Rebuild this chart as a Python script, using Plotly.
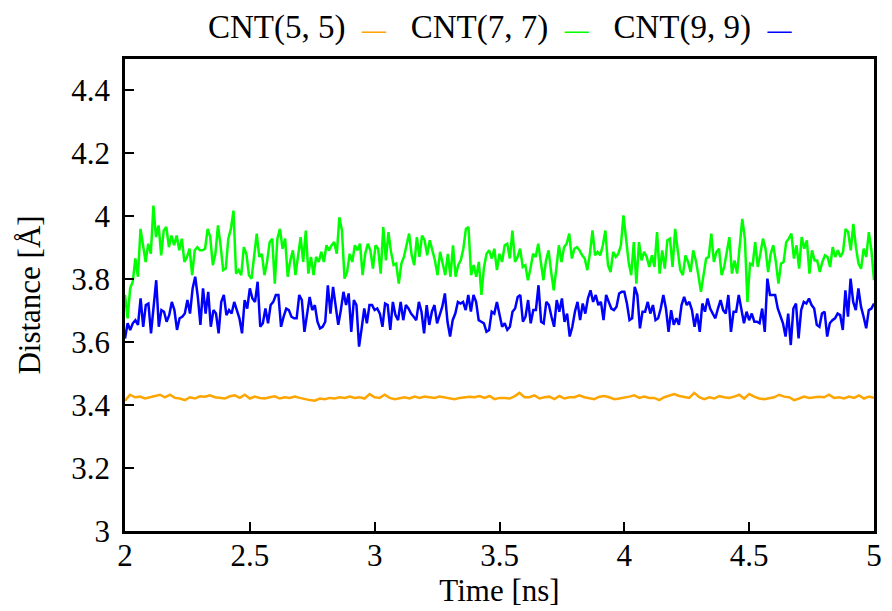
import numpy as np
import plotly.graph_objects as go

# ---- data ----
labels = ["CNT(5, 5)", "CNT(7, 7)", "CNT(9, 9)"]
colors = ["#FFA500", "#00FF00", "#0000FF"]

cnt55 = [
    3.414, 3.433, 3.425, 3.427, 3.421, 3.425, 3.428, 3.433, 3.425, 3.433,
    3.423, 3.421, 3.416, 3.425, 3.421, 3.428, 3.427, 3.431, 3.425, 3.423,
    3.421, 3.428, 3.431, 3.423, 3.433, 3.421, 3.427, 3.423, 3.421, 3.425,
    3.428, 3.421, 3.425, 3.423, 3.427, 3.423, 3.419, 3.416, 3.414, 3.421,
    3.419, 3.423, 3.421, 3.425, 3.423, 3.427, 3.423, 3.425, 3.421, 3.435,
    3.425, 3.423, 3.433, 3.423, 3.419, 3.423, 3.425, 3.421, 3.427, 3.423,
    3.427, 3.425, 3.423, 3.427, 3.425, 3.423, 3.419, 3.423, 3.425, 3.427,
    3.425, 3.429, 3.423, 3.429, 3.419,
    3.423, 3.423, 3.421, 3.428, 3.439, 3.425, 3.425, 3.431, 3.421, 3.425,
    3.427, 3.419, 3.429, 3.421, 3.425, 3.425, 3.431, 3.425, 3.423, 3.419,
    3.427, 3.429, 3.425, 3.419, 3.421, 3.423, 3.427, 3.431, 3.423, 3.427,
    3.423, 3.423, 3.416, 3.425, 3.429, 3.435, 3.429, 3.425, 3.423, 3.439,
    3.425, 3.419, 3.425, 3.421, 3.429, 3.425, 3.423, 3.427, 3.433, 3.421,
    3.435, 3.427, 3.421, 3.419, 3.423, 3.425, 3.433, 3.427, 3.425, 3.416,
    3.421, 3.427, 3.423, 3.425, 3.427, 3.425, 3.433, 3.423, 3.425, 3.421,
    3.427, 3.423, 3.431, 3.421, 3.427, 3.423,
]

cnt77 = [
    3.750, 3.676, 3.771, 3.792, 3.866, 3.808, 3.960, 3.908, 3.855, 3.913,
    3.881, 4.034, 3.934, 3.971, 3.876, 3.955, 3.966, 3.902, 3.939, 3.908,
    3.939, 3.892, 3.929, 3.855, 3.871, 3.897, 3.813, 3.892, 3.902, 3.892,
    3.892, 3.897, 3.960, 3.934, 3.845, 3.881, 3.971, 3.908, 3.829, 3.834,
    3.929, 3.960, 4.018, 3.818, 3.829, 3.813, 3.902, 3.881, 3.813,
    3.802, 3.881, 3.945, 3.871, 3.881, 3.813, 3.855, 3.918, 3.929, 3.786,
    3.929, 3.960, 3.897, 3.929, 3.808, 3.860, 3.892, 3.813, 3.881, 3.934,
    3.855, 3.955, 3.818, 3.871, 3.813, 3.871, 3.855, 3.887, 3.855, 3.908,
    3.892, 3.908, 3.918, 3.881, 3.997, 3.955, 3.802, 3.823, 3.881, 3.855,
    3.908, 3.892, 3.913, 3.813, 3.881, 3.913, 3.892, 3.834,
    3.908, 3.897, 3.818, 3.966, 3.860, 3.950, 3.887, 3.845, 3.850, 3.786,
    3.850, 3.871, 3.908, 3.945, 3.876, 3.845, 3.934, 3.871, 3.939, 3.924,
    3.876, 3.924, 3.892, 3.860, 3.813, 3.887, 3.850, 3.813, 3.881, 3.808,
    3.908, 3.808, 3.845, 3.860, 3.897, 3.960, 3.966, 3.813, 3.845, 3.808,
    3.855, 3.750, 3.839, 3.881, 3.892, 3.866, 3.897, 3.829, 3.881,
    3.855, 3.908, 3.913, 3.866, 3.955, 3.855, 3.871, 3.897, 3.839, 3.845,
    3.797, 3.834, 3.881, 3.871, 3.913, 3.855, 3.797, 3.860, 3.892, 3.823,
    3.765, 3.834, 3.908, 3.855, 3.902, 3.913, 3.945, 3.866, 3.897, 3.902,
    3.892, 3.876, 3.866, 3.829, 3.881, 3.955, 3.876, 3.887, 3.876, 3.908,
    3.955, 3.845, 3.823, 3.887, 3.871, 3.881, 3.908,
    4.003, 3.918, 3.855, 3.813, 3.918, 3.786, 3.918, 3.860, 3.887, 3.871,
    3.839, 3.876, 3.839, 3.950, 3.818, 3.892, 3.834, 3.924, 3.929, 3.839,
    3.960, 3.892, 3.829, 3.813, 3.876, 3.855, 3.823, 3.892, 3.860, 3.813,
    3.760, 3.813, 3.866, 3.871, 3.945, 3.855, 3.887, 3.897, 3.813, 3.839,
    3.881, 3.934, 3.818, 3.860, 3.818, 3.902, 3.992,
    3.929, 3.728, 3.850, 3.845, 3.918, 3.839, 3.881, 3.929, 3.897, 3.823,
    3.881, 3.908, 3.855, 3.786, 3.850, 3.855, 3.918, 3.929, 3.945, 3.866,
    3.908, 3.834, 3.934, 3.897, 3.924, 3.818, 3.892, 3.860, 3.860, 3.823,
    3.855, 3.876, 3.871, 3.839, 3.902, 3.871, 3.892, 3.871, 3.887, 3.960,
    3.950, 3.892, 3.976, 3.902, 3.850, 3.834, 3.897, 3.871, 3.950, 3.892,
    3.797,
]

cnt99 = [
    3.612, 3.660, 3.639, 3.660, 3.670, 3.655, 3.739, 3.649, 3.718, 3.723,
    3.628, 3.707, 3.797, 3.649, 3.702, 3.697, 3.665, 3.686, 3.728, 3.702,
    3.639, 3.676, 3.681, 3.691, 3.734, 3.691, 3.771, 3.808, 3.744, 3.655,
    3.771, 3.691, 3.760, 3.649, 3.702, 3.691, 3.628, 3.728, 3.750, 3.686,
    3.702, 3.691, 3.728, 3.702, 3.676, 3.628, 3.734,
    3.707, 3.771, 3.739, 3.728, 3.792, 3.649, 3.660, 3.707, 3.660, 3.718,
    3.728, 3.750, 3.750, 3.649, 3.681, 3.707, 3.702, 3.681, 3.676, 3.676,
    3.750, 3.734, 3.633, 3.691, 3.744, 3.702, 3.718, 3.665, 3.644, 3.649,
    3.665, 3.781, 3.691, 3.776, 3.718, 3.655, 3.702, 3.760, 3.718, 3.755,
    3.633, 3.734, 3.718, 3.586, 3.644, 3.707, 3.660, 3.718,
    3.718, 3.702, 3.707, 3.691, 3.649, 3.723, 3.718, 3.639, 3.728, 3.686,
    3.670, 3.728, 3.670, 3.718, 3.707, 3.691, 3.681, 3.670, 3.728, 3.697,
    3.628, 3.718, 3.655, 3.697, 3.718, 3.660, 3.686, 3.713, 3.755, 3.665,
    3.618, 3.670, 3.691, 3.728, 3.723, 3.728, 3.702, 3.750, 3.697, 3.750,
    3.728, 3.670, 3.665, 3.660, 3.633, 3.639, 3.697, 3.691, 3.728,
    3.691, 3.649, 3.660, 3.639, 3.649, 3.697, 3.707, 3.744, 3.750, 3.665,
    3.681, 3.734, 3.660, 3.702, 3.702, 3.781, 3.665, 3.660, 3.728, 3.718,
    3.681, 3.649, 3.734, 3.697, 3.739, 3.665, 3.691, 3.618, 3.649, 3.697,
    3.728, 3.670, 3.723, 3.691, 3.739, 3.765, 3.728, 3.750, 3.718, 3.728,
    3.670, 3.750, 3.728, 3.707, 3.702, 3.713, 3.755,
    3.760, 3.760, 3.723, 3.670, 3.676, 3.776, 3.750, 3.644, 3.697, 3.697,
    3.728, 3.691, 3.718, 3.670, 3.676, 3.707, 3.750, 3.707, 3.633, 3.702,
    3.655, 3.676, 3.655, 3.718, 3.744, 3.718, 3.728, 3.702, 3.649, 3.691,
    3.633, 3.723, 3.697, 3.739, 3.707, 3.691, 3.676, 3.707, 3.734, 3.702,
    3.691, 3.750, 3.633, 3.697, 3.697, 3.750, 3.707,
    3.660, 3.697, 3.670, 3.691, 3.665, 3.665, 3.660, 3.707, 3.633, 3.802,
    3.750, 3.750, 3.750, 3.707, 3.686, 3.660, 3.618, 3.691, 3.591, 3.707,
    3.723, 3.612, 3.702, 3.728, 3.723, 3.739, 3.718, 3.707, 3.655, 3.649,
    3.691, 3.697, 3.618, 3.660, 3.670, 3.676, 3.691, 3.686, 3.639, 3.765,
    3.681, 3.802, 3.728, 3.702, 3.771, 3.713, 3.681, 3.644, 3.702, 3.707,
    3.723,
]

t_start, t_end = 2.0, 5.0
x_ticks = [2, 2.5, 3, 3.5, 4, 4.5, 5]
y_ticks = [3, 3.2, 3.4, 3.6, 3.8, 4, 4.2, 4.4]

FONT = "Liberation Serif"

fig = go.Figure()
for name, col, ys in zip(labels, colors, [cnt55, cnt77, cnt99]):
    xs = np.linspace(t_start, t_end, len(ys))
    fig.add_trace(go.Scatter(x=xs, y=ys, mode="lines", name=name,
                             line=dict(color=col, width=2.5), showlegend=False))

# gnuplot-style key: text followed by a line sample
sp = "\u00a0"
key_text = (sp * 3).join(
    f"{lab}{sp}{sp}<span style='color:{col};font-size:24px'><b>\u2014</b></span>"
    for lab, col in zip(labels, colors)
)
fig.add_annotation(text=key_text, xref="paper", yref="paper", x=0.5, y=1.066,
                   xanchor="center", yanchor="middle", showarrow=False,
                   font=dict(family=FONT, size=33, color="black"))

axis_common = dict(showline=True, linecolor="black", linewidth=2.5, mirror=True,
                   ticks="inside", ticklen=9, tickwidth=2, tickcolor="black",
                   showgrid=False, zeroline=False,
                   tickfont=dict(family=FONT, size=31, color="black"))

fig.update_xaxes(range=[t_start, t_end], tickvals=x_ticks, ticklabelstandoff=-5,
                 title=dict(text="Time [ns]", font=dict(family=FONT, size=31, color="black"), standoff=6),
                 **axis_common)
fig.update_yaxes(range=[3, 4.5], tickvals=y_ticks, ticklabelstandoff=6,
                 title=dict(text="Distance [Å]", font=dict(family=FONT, size=31, color="black"), standoff=22),
                 **axis_common)

fig.update_layout(width=892, height=611, plot_bgcolor="white", paper_bgcolor="white",
                  margin=dict(l=125, r=10, t=59, b=79))

fig.write_html("out.html")
